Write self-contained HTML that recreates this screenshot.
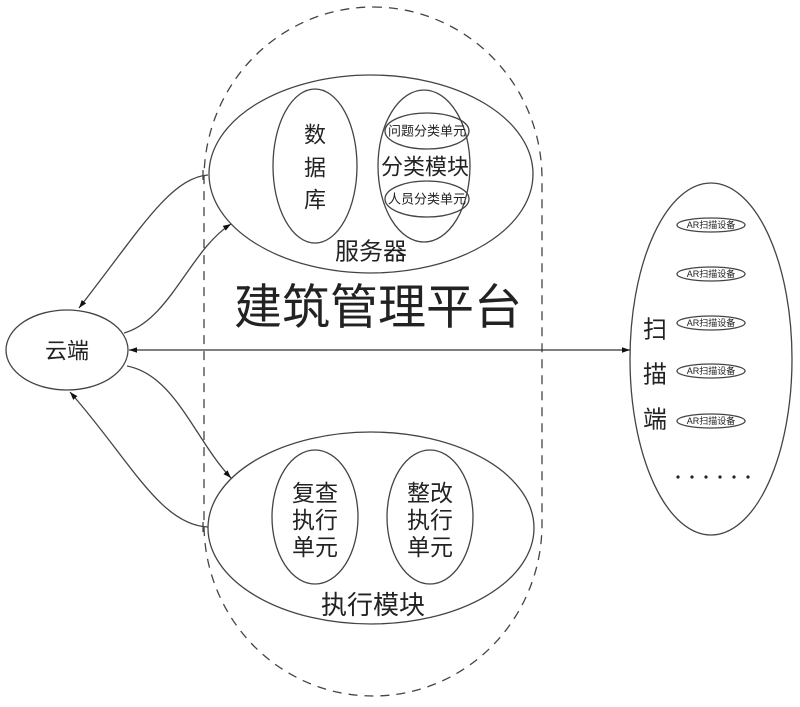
<!DOCTYPE html>
<html><head><meta charset="utf-8"><style>
html,body{margin:0;padding:0;background:#fff}
svg text{font-family:"Liberation Sans","Noto Sans CJK SC",sans-serif;fill:#222;text-anchor:middle;dominant-baseline:central}
</style></head><body>
<svg width="800" height="702" viewBox="0 0 800 702" xmlns="http://www.w3.org/2000/svg">
<defs>
<marker id="a" viewBox="0 0 10 10" refX="10" refY="5" markerWidth="10" markerHeight="8" orient="auto" markerUnits="userSpaceOnUse">
<path d="M0,1.5 L10,5 L0,8.5 z" fill="#111"/></marker>
<marker id="b" viewBox="0 0 10 10" refX="10" refY="5" markerWidth="10" markerHeight="8" orient="auto-start-reverse" markerUnits="userSpaceOnUse">
<path d="M0,1.5 L10,5 L0,8.5 z" fill="#111"/></marker>
</defs>
<g fill="none" stroke="#444" stroke-width="1.3">
<rect x="204" y="7" width="338" height="689" rx="169" ry="172" stroke-dasharray="9,7"/>
<ellipse cx="371" cy="174" rx="162" ry="99"/>
<ellipse cx="315" cy="166" rx="42" ry="77"/>
<ellipse cx="424" cy="166" rx="46" ry="76"/>
<ellipse cx="427" cy="131" rx="42" ry="18"/>
<ellipse cx="427" cy="199" rx="42" ry="18"/>
<ellipse cx="371" cy="528" rx="163" ry="96"/>
<ellipse cx="315" cy="517" rx="43" ry="67"/>
<ellipse cx="430" cy="517" rx="43" ry="67"/>
<ellipse cx="67" cy="350" rx="61" ry="40"/>
<ellipse cx="711" cy="359" rx="81" ry="176"/>
<ellipse cx="711" cy="225" rx="34" ry="7"/>
<ellipse cx="711" cy="274" rx="34" ry="7"/>
<ellipse cx="711" cy="323" rx="34" ry="7"/>
<ellipse cx="711" cy="371" rx="34" ry="7"/>
<ellipse cx="711" cy="421" rx="34" ry="7"/>
<line x1="129" y1="350" x2="630" y2="350" marker-end="url(#b)" marker-start="url(#b)" stroke="#333"/>
<path d="M208,175 C170,178 140,230 79,308" marker-end="url(#a)"/>
<path d="M124,333 C170,320 190,250 231,224" marker-end="url(#a)"/>
<path d="M127,366 C175,375 195,440 231,478" marker-end="url(#a)"/>
<path d="M208,527 C160,525 130,460 70,392" marker-end="url(#a)"/>
<line x1="203" y1="170" x2="203" y2="180"/>
<line x1="203" y1="522" x2="203" y2="532"/>
</g>
<g>
<text x="315" y="135" font-size="22">数</text>
<text x="315" y="168" font-size="22">据</text>
<text x="315" y="200" font-size="22">库</text>
<text x="427" y="131" font-size="13">问题分类单元</text>
<text x="425" y="167" font-size="22">分类模块</text>
<text x="427" y="199" font-size="13">人员分类单元</text>
<text x="371" y="252" font-size="24">服务器</text>
<text x="378" y="308" font-size="48">建筑管理平台</text>
<text x="67" y="351" font-size="22">云端</text>
<text x="315" y="493" font-size="23">复查</text>
<text x="315" y="520" font-size="23">执行</text>
<text x="315" y="547" font-size="23">单元</text>
<text x="430" y="493" font-size="23">整改</text>
<text x="430" y="520" font-size="23">执行</text>
<text x="430" y="547" font-size="23">单元</text>
<text x="373" y="605" font-size="26">执行模块</text>
<text x="655" y="330" font-size="24">扫</text>
<text x="655" y="375" font-size="24">描</text>
<text x="655" y="420" font-size="24">端</text>
<text x="711" y="225" font-size="9">AR扫描设备</text>
<text x="711" y="274" font-size="9">AR扫描设备</text>
<text x="711" y="323" font-size="9">AR扫描设备</text>
<text x="711" y="371" font-size="9">AR扫描设备</text>
<text x="711" y="421" font-size="9">AR扫描设备</text>
</g>
<g fill="#222">
<circle cx="678" cy="477" r="1.6"/><circle cx="692" cy="477" r="1.6"/><circle cx="706" cy="477" r="1.6"/>
<circle cx="720" cy="477" r="1.6"/><circle cx="734" cy="477" r="1.6"/><circle cx="748" cy="477" r="1.6"/>
</g>
</svg>
</body></html>
